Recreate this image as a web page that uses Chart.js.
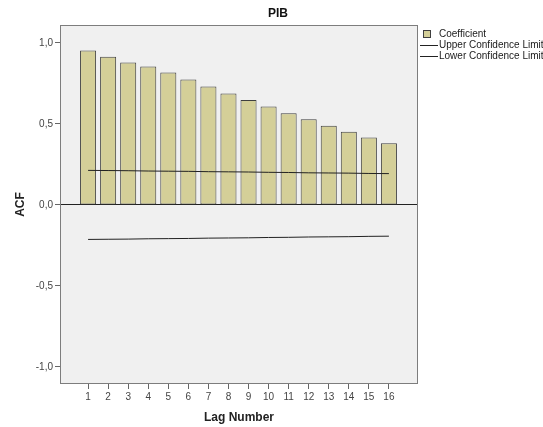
<!DOCTYPE html>
<html>
<head>
<meta charset="utf-8">
<script src="https://cdn.jsdelivr.net/npm/chart.js@4/dist/chart.umd.min.js"></script>
<style>
  html, body { margin: 0; padding: 0; background: #fff; }
  #wrap { width: 543px; height: 427px; }
</style>
</head>
<body>
<div id="wrap"><canvas id="graficoAcf" width="543" height="427"></canvas></div>
<script>
// ---- DATOS ----
const lags = [1, 2, 3, 4, 5, 6, 7, 8, 9, 10, 11, 12, 13, 14, 15, 16];
const coeficientes = [0.952, 0.914, 0.878, 0.854, 0.817, 0.774, 0.730, 0.687, 0.648, 0.607, 0.566, 0.529, 0.488, 0.451, 0.416, 0.381];
const limiteSup = [0.213, 0.212, 0.211, 0.209, 0.208, 0.207, 0.205, 0.204, 0.203, 0.201, 0.200, 0.198, 0.197, 0.196, 0.194, 0.193];
const limiteInf = [-0.213, -0.212, -0.211, -0.209, -0.208, -0.207, -0.205, -0.204, -0.203, -0.201, -0.200, -0.198, -0.197, -0.196, -0.194, -0.193];
const yTicks = [-1.0, -0.5, 0.0, 0.5, 1.0];

const FONT = 'Arial, "Liberation Sans", sans-serif';
const BAR_FILL = "#d4cf98";
const BAR_BORDER = "#3f3f3f";

// ---- ICONOS DE LEYENDA ----
function iconoCaja() {
  const c = document.createElement("canvas");
  c.width = 29; c.height = 10;
  const g = c.getContext("2d");
  g.fillStyle = BAR_FILL;
  g.fillRect(11, 1, 8, 8);
  g.strokeStyle = BAR_BORDER;
  g.lineWidth = 1;
  g.strokeRect(11.5, 1.5, 7, 7);
  return c;
}
function iconoLinea() {
  const c = document.createElement("canvas");
  c.width = 29; c.height = 10;
  const g = c.getContext("2d");
  g.fillStyle = "#222";
  g.fillRect(8, 5, 18, 1);
  return c;
}

// ---- FONDO Y BORDE DEL AREA ----
const marcoPlugin = {
  id: "marco",
  beforeDraw(chart) {
    const a = chart.chartArea;
    const ctx = chart.ctx;
    ctx.save();
    ctx.fillStyle = "#f0f0f0";
    ctx.fillRect(a.left, a.top, a.right - a.left, a.bottom - a.top);
    ctx.restore();
  },
  afterDraw(chart) {
    const a = chart.chartArea;
    const ctx = chart.ctx;
    ctx.save();
    ctx.strokeStyle = "#7d7d7d";
    ctx.lineWidth = 1;
    ctx.strokeRect(Math.round(a.left) + 0.5, Math.round(a.top) + 0.5,
      Math.round(a.right - a.left) - 1, Math.round(a.bottom - a.top) - 1);
    ctx.restore();
  }
};

const ctx = document.getElementById("graficoAcf").getContext("2d");
const grafico = new Chart(ctx, {
  type: "bar",
  data: {
    datasets: [
      {
        type: "bar",
        label: "Coefficient",
        data: lags.map((l, i) => ({ x: l, y: coeficientes[i] })),
        backgroundColor: BAR_FILL,
        borderColor: BAR_BORDER,
        borderWidth: 1,
        borderSkipped: false,
        barPercentage: 1,
        categoryPercentage: 0.8,
        order: 2
      },
      {
        type: "line",
        label: "Upper Confidence Limit",
        data: lags.map((l, i) => ({ x: l, y: limiteSup[i] })),
        borderColor: "#222",
        borderWidth: 1,
        pointRadius: 0,
        fill: false,
        order: 1
      },
      {
        type: "line",
        label: "Lower Confidence Limit",
        data: lags.map((l, i) => ({ x: l, y: limiteInf[i] })),
        borderColor: "#222",
        borderWidth: 1,
        pointRadius: 0,
        fill: false,
        order: 1
      }
    ]
  },
  options: {
    responsive: false,
    maintainAspectRatio: false,
    animation: false,
    layout: { padding: { left: 13, right: 0, top: 0, bottom: 0 } },
    scales: {
      x: {
        type: "linear",
        offset: false,
        min: -0.4,
        max: 17.45,
        afterBuildTicks: s => { s.ticks = lags.map(v => ({ value: v })); },
        afterFit: s => { s.height = 43; },
        border: { display: false },
        grid: { offset: false, drawOnChartArea: false, tickLength: 5, color: "#666" },
        ticks: { color: "#444", font: { family: FONT, size: 10 }, padding: 2, maxRotation: 0, autoSkip: false },
        title: { display: true, text: "Lag Number", color: "#222", font: { family: FONT, size: 12, weight: "bold" }, padding: { top: 0, bottom: 2 } }
      },
      y: {
        min: -1.105,
        max: 1.11,
        afterBuildTicks: s => { s.ticks = yTicks.map(v => ({ value: v })); },
        afterFit: s => { s.width = 47; },
        border: { display: false },
        grid: {
          tickLength: 5,
          tickColor: "#666",
          color: c => (c.tick && c.tick.value === 0 ? "#222" : "rgba(0,0,0,0)"),
          lineWidth: 1
        },
        ticks: {
          color: "#444",
          font: { family: FONT, size: 10 },
          padding: 2,
          callback: v => v.toFixed(1).replace(".", ",")
        },
        title: { display: true, text: "ACF", color: "#222", font: { family: FONT, size: 12, weight: "bold" }, padding: { top: 0, bottom: 0 } }
      }
    },
    plugins: {
      title: {
        display: true,
        text: "PIB",
        color: "#111",
        font: { family: FONT, size: 12, weight: "bold" },
        padding: { top: 6, bottom: 4.6 }
      },
      legend: {
        position: "right",
        align: "start",
        fullSize: false,
        maxWidth: 125,
        title: { display: true, text: "", font: { size: 2, lineHeight: 1 }, padding: { top: 1, bottom: 0 } },
        labels: {
          usePointStyle: true,
          pointStyleWidth: 15,
          padding: 1,
          color: "#1a1a1a",
          font: { family: FONT, size: 10 },
          generateLabels: chart => chart.data.datasets.map((d, i) => ({
            text: d.label,
            pointStyle: i === 0 ? iconoCaja() : iconoLinea(),
            fillStyle: "transparent",
            strokeStyle: "transparent",
            fontColor: "#1a1a1a",
            lineWidth: 0,
            hidden: false,
            datasetIndex: i
          }))
        }
      },
      tooltip: { enabled: false }
    }
  },
  plugins: [marcoPlugin]
});
</script>
</body>
</html>
